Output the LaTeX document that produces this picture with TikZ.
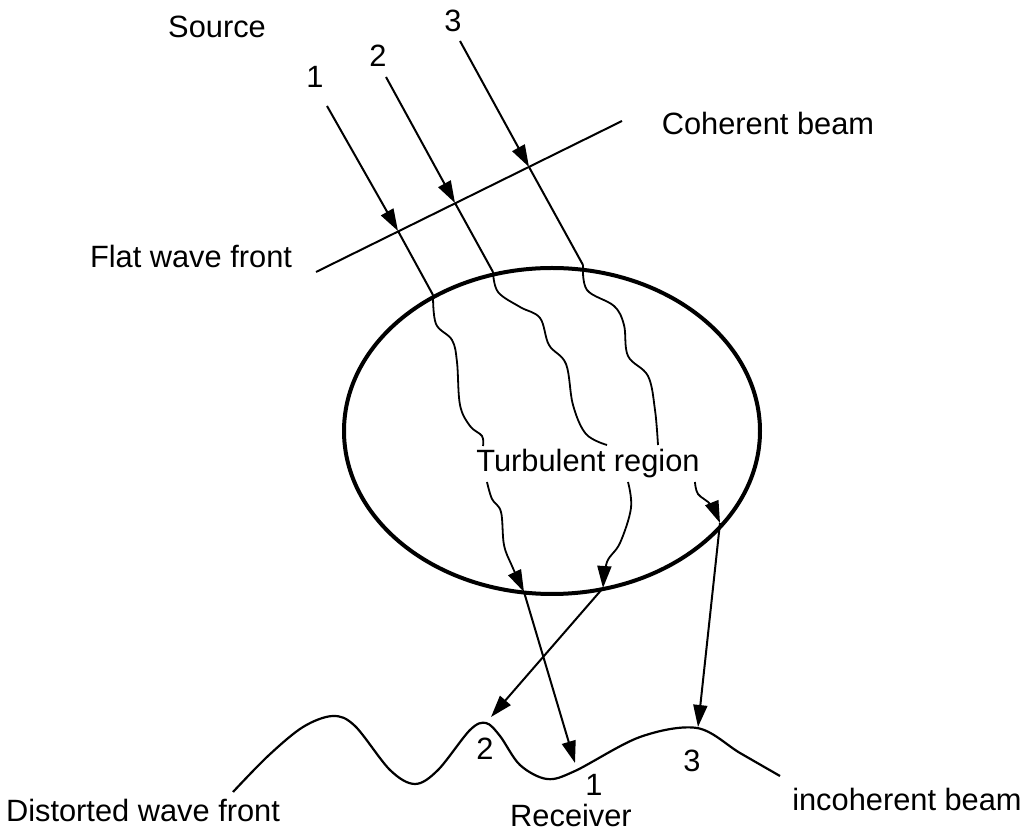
\documentclass[tikz,border=0pt]{standalone}
\usepackage{fontspec}
\setmainfont{Liberation Sans}
\usetikzlibrary{arrows.meta}
\tikzset{
  lbl/.style={font=\fontsize{15.4}{18}\selectfont, inner sep=0pt, anchor=base},
  ray/.style={line width=1pt, -{Triangle[length=11pt,width=7pt]}},
  beam/.style={line width=1pt},
  wavy/.style={line width=0.9pt, smooth, tension=0.6},
}
\begin{document}
\begin{tikzpicture}[x=0.5pt, y=-0.5pt]
\useasboundingbox (0,0) rectangle (1024,833);
% texts
\node[lbl] (source) at (217,38) {Source};
\node[lbl] (coherent) at (768,135) {Coherent beam};
\node[lbl] (flat) at (191,268) {Flat wave front};
\node[lbl] (turb) at (588,472) {Turbulent region};
\node[lbl] (distorted) at (143,822) {Distorted wave front};
\node[lbl] (receiver) at (571,827) {Receiver};
\node[lbl] (incoherent) at (907,811) {incoherent beam};
\node[lbl] (n1) at (315,88) {1};
\node[lbl] (n2) at (378,67) {2};
\node[lbl] (n3) at (453,32) {3};
\node[lbl] (r2) at (485,760) {2};
\node[lbl] (r1) at (594,796) {1};
\node[lbl] (r3) at (692,772) {3};
% flat wave front and turbulent region
\coordinate (fl) at (316,272);
\coordinate (fr) at (622,121);
\draw[beam] (fl) -- (fr);
\draw[line width=2pt] (552,431) ellipse [x radius=208, y radius=163];
% ray points
\coordinate (s1) at (327,106);
\coordinate (s2) at (386,77);
\coordinate (s3) at (460,41);
\coordinate (c1) at (398,231);
\coordinate (c2) at (455,203);
\coordinate (c3) at (529,167);
\coordinate (e1) at (433,295);
\coordinate (e2) at (493,272);
\coordinate (e3) at (583,265);
\coordinate (o1) at (524,592);
\coordinate (o2) at (603,588);
\coordinate (o3) at (720,523);
\coordinate (t1) at (575,763);
\coordinate (t2) at (491,717);
\coordinate (t3) at (698,727);
% incoming rays
\foreach \i in {1,2,3} {
  \draw[ray] (s\i) -- (c\i);
  \draw[beam] (c\i) -- (e\i);
}
% through the turbulence
\draw[wavy] plot coordinates {(e1) (436,324) (452,340) (457,362) (460,405) (470,426) (482,436) (483,446)};
\draw[wavy] plot coordinates {(e2) (498,292) (520,307) (540,318) (549,345) (566,364) (573,405) (586,434) (607,445)};
\draw[wavy] plot coordinates {(e3) (587,290) (614,306) (624,325) (628,356) (648,376) (655,410) (658,445)};
\draw[wavy, -{Triangle[length=11pt,width=7pt]}] plot coordinates {(487,482) (492,499) (501,512) (504,545) (512,566) (o1)};
\draw[wavy, -{Triangle[length=11pt,width=7pt]}] plot coordinates {(628,482) (631,508) (620,543) (607,562) (o2)};
\draw[wavy, -{Triangle[length=11pt,width=7pt]}] plot coordinates {(695,482) (698,494) (711,505) (o3)};
% out to the receiver
\foreach \i in {1,2,3}
  \draw[ray] (o\i) -- (t\i);
% distorted wave front
\draw[line width=1.1pt] plot[smooth, tension=0.55] coordinates {(233,792) (268,756) (303,727) (333,716) (355,726) (390,770) (415,784) (438,770) (470,730) (486,723) (500,736) (520,765) (547,779) (575,771) (640,737) (697,728) (740,753) (780,776)};
\end{tikzpicture}
\end{document}
